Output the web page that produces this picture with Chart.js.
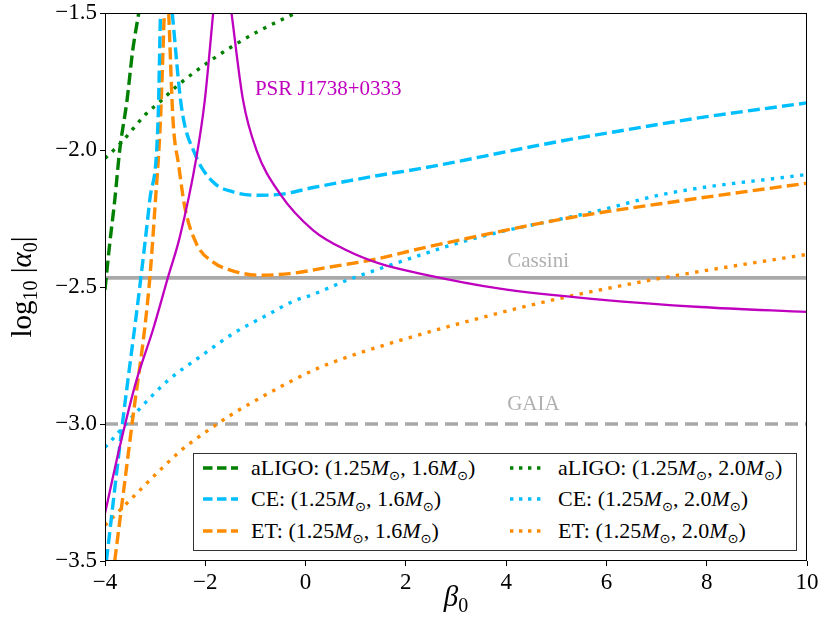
<!DOCTYPE html>
<html>
<head>
<meta charset="utf-8">
<script src="https://cdn.jsdelivr.net/npm/chart.js@4.4.1/dist/chart.umd.min.js"></script>
<style>
  html, body { margin: 0; padding: 0; background: #fff; }
  #wrap { position: relative; width: 818px; height: 617px; }
  canvas { display: block; }
  #legend {
    position: absolute; left: 193px; top: 453px; width: 602px; height: 96px;
    border: 1px solid #333; background: #fff;
    font-family: "Liberation Serif", serif; font-size: 22px; color: #000;
  }
  #legend .item { position: absolute; height: 30px; display: flex; align-items: center; white-space: nowrap; }
  #legend .item svg { margin-right: 13px; flex: none; }
  #legend sub { font-size: 0.6em; vertical-align: -0.35em; line-height: 0; font-family: "DejaVu Sans", sans-serif; }
</style>
</head>
<body>
<div id="wrap">
  <canvas id="c" width="818" height="617"></canvas>
  <div id="legend"></div>
</div>
<script>
// ---------- data ----------
const xTicks = [-4, -2, 0, 2, 4, 6, 8, 10];
const yTicks = [-3.5, -3.0, -2.5, -2.0, -1.5];

const detectors = ['aLIGO', 'CE', 'ET'];
const companionMasses = ['1.6', '2.0'];
const primaryMass = '1.25';

// aLIGO (1.25, 1.6) dashed
const aligo16X = [-4.0, -3.906, -3.806, -3.707, -3.561, -3.447, -3.327];
const aligo16Y = [-2.51, -2.342, -2.184, -2.001, -1.819, -1.636, -1.5];
// aLIGO (1.25, 2.0) dotted
const aligo20X = [-4.0, -3.707, -3.174, -2.874, -2.575, -1.944, -1.445, -0.946, -0.2];
const aligo20Y = [-2.030, -1.979, -1.867, -1.819, -1.768, -1.680, -1.620, -1.567, -1.5];

// CE (1.25, 1.6) dashed, two branches
const ce16LeftX = [-3.972, -3.653, -3.307, -3.108, -2.942, -2.894];
const ce16LeftY = [-3.5, -3.0, -2.5, -2.184, -1.892, -1.5];
const ce16RightX = [-2.659, -2.475, -2.210, -1.844, -1.445, -0.978, -0.513, 0.152, 0.818, 1.483, 2.281, 5.076, 6.539, 7.870, 10.0];
const ce16RightY = [-1.5, -1.843, -2.013, -2.117, -2.153, -2.165, -2.162, -2.137, -2.114, -2.092, -2.068, -1.968, -1.922, -1.882, -1.828];
// CE (1.25, 2.0) dotted
const ce20X = [-4.0, -3.840, -3.307, -2.743, -2.110, -1.445, -0.713, -0.248, 0.152, 0.818, 1.483, 2.281, 2.880, 3.878, 4.876, 5.741, 7.206, 10.0];
const ce20Y = [-3.085, -3.053, -2.944, -2.841, -2.755, -2.670, -2.597, -2.552, -2.527, -2.476, -2.433, -2.384, -2.348, -2.299, -2.260, -2.226, -2.159, -2.089];

// ET (1.25, 1.6) dashed, two branches
const et16LeftX = [-3.806, -3.461, -3.122, -2.994, -2.894, -2.818];
const et16LeftY = [-3.5, -3.0, -2.5, -2.184, -1.892, -1.5];
const et16RightX = [-2.729, -2.643, -2.530, -2.409, -2.176, -1.844, -1.377, -0.912, -0.313, 0.489, 1.349, 2.281, 2.880, 5.210, 7.537, 10.0];
const et16RightY = [-1.5, -1.892, -2.056, -2.208, -2.342, -2.409, -2.445, -2.457, -2.451, -2.427, -2.400, -2.360, -2.336, -2.249, -2.184, -2.121];
// ET (1.25, 2.0) dotted
const et20X = [-4.0, -3.607, -3.273, -2.874, -2.443, -1.944, -1.445, -1.112, 0.152, 0.750, 1.882, 3.944, 5.210, 7.206, 10.0];
const et20Y = [-3.370, -3.297, -3.236, -3.163, -3.090, -3.023, -2.962, -2.926, -2.804, -2.761, -2.695, -2.591, -2.536, -2.464, -2.381];

// PSR J1738+0333, two branches
const psrLeftX = [-4.0, -3.707, -3.373, -3.042, -2.743, -2.509, -2.176, -2.010, -1.844];
const psrLeftY = [-3.326, -3.084, -2.841, -2.655, -2.464, -2.318, -2.026, -1.819, -1.502];
const psrRightX = [-1.477, -1.246, -0.978, -0.513, 0.152, 0.818, 1.483, 2.281, 3.878, 5.874, 7.870, 10.0];
const psrRightY = [-1.5, -1.819, -2.001, -2.159, -2.293, -2.366, -2.415, -2.451, -2.506, -2.546, -2.573, -2.591];

// horizontal bounds
const boundX = [-4, 10];
const cassiniLevel = -2.467;
const gaiaLevel = -3.0;

// text annotations (anchor in data coordinates)
const annotationTexts = ['PSR J1738+0333', 'Cassini', 'GAIA'];
const annotationX = [-1.01, 4.02, 4.02];
const annotationY = [-1.80, -2.428, -2.950];

// ---------- helpers ----------
const pts = (xs, ys) => xs.map((x, i) => ({ x: x, y: ys[i] }));
const branches = (xa, ya, xb, yb) =>
  pts(xa, ya).concat([{ x: (xa[xa.length - 1] + xb[0]) / 2, y: null }], pts(xb, yb));

const GREEN = '#008000', CYAN = '#00bfff', ORANGE = '#ff8c00', MAGENTA = '#bf00bf', GRAY = '#a9a9a9';
const DASH = [12, 5.2], DOT = [3.4, 6.4];
const SERIF = '"Liberation Serif", "Times New Roman", serif';
Chart.defaults.font.family = SERIF;

function curve(data, color, style, legend) {
  return {
    data: data, borderColor: color, backgroundColor: color,
    borderWidth: style === 'solid' ? 2.3 : 3.4,
    borderDash: style === 'dash' ? DASH : style === 'dot' ? DOT : [],
    borderCapStyle: 'butt', showLine: true, pointRadius: 0,
    cubicInterpolationMode: 'monotone', spanGaps: false, clip: 0,
    legendInfo: legend
  };
}

const datasets = [
  curve(branches(psrLeftX, psrLeftY, psrRightX, psrRightY), MAGENTA, 'solid', null),
  curve(pts(aligo16X, aligo16Y), GREEN, 'dash', { det: 0, m: 0 }),
  curve(branches(ce16LeftX, ce16LeftY, ce16RightX, ce16RightY), CYAN, 'dash', { det: 1, m: 0 }),
  curve(branches(et16LeftX, et16LeftY, et16RightX, et16RightY), ORANGE, 'dash', { det: 2, m: 0 }),
  curve(pts(aligo20X, aligo20Y), GREEN, 'dot', { det: 0, m: 1 }),
  curve(pts(ce20X, ce20Y), CYAN, 'dot', { det: 1, m: 1 }),
  curve(pts(et20X, et20Y), ORANGE, 'dot', { det: 2, m: 1 }),
  Object.assign(curve(pts(boundX, [cassiniLevel, cassiniLevel]), GRAY, 'solid', null), { borderWidth: 3.8 }),
  Object.assign(curve(pts(boundX, [gaiaLevel, gaiaLevel]), GRAY, 'dash', null), { borderWidth: 3.6, borderDash: [13, 7] })
];

const annColors = [MAGENTA, '#b0b0b0', '#b0b0b0'];
const fmtNum = (v, d) => (d ? v.toFixed(d) : String(v)).replace('-', '\u2212');

const overlay = {
  id: 'overlay',
  afterDatasetsDraw(chart) {
    const { ctx, chartArea: a, scales } = chart;
    ctx.save();
    ctx.font = '21px ' + SERIF;
    ctx.textBaseline = 'alphabetic';
    ctx.textAlign = 'left';
    annotationTexts.forEach((t, i) => {
      ctx.fillStyle = annColors[i];
      ctx.fillText(t, scales.x.getPixelForValue(annotationX[i]), scales.y.getPixelForValue(annotationY[i]));
    });
    ctx.strokeStyle = '#000';
    ctx.lineWidth = 1;
    ctx.strokeRect(a.left + 0.5, a.top + 0.5, a.right - a.left - 1, a.bottom - a.top - 1);
    ctx.restore();
  },
  afterDraw(chart) {
    const { ctx, chartArea: a } = chart;
    const drawPieces = (pieces) => {
      let w = 0;
      pieces.forEach(p => { ctx.font = p.f; p.w = ctx.measureText(p.t).width; w += p.w; });
      let cx = -w / 2;
      pieces.forEach(p => { ctx.font = p.f; ctx.fillText(p.t, cx, p.dy || 0); cx += p.w; });
    };
    ctx.save();
    ctx.fillStyle = '#000';
    ctx.textBaseline = 'alphabetic';
    ctx.textAlign = 'left';
    // y title
    ctx.save();
    ctx.translate(31, (a.top + a.bottom) / 2);
    ctx.rotate(-Math.PI / 2);
    drawPieces([
      { t: 'log', f: '29px ' + SERIF },
      { t: '10', f: '20px ' + SERIF, dy: 6 },
      { t: ' |', f: '29px ' + SERIF },
      { t: '\u03b1', f: 'italic 29px ' + SERIF },
      { t: '0', f: '20px ' + SERIF, dy: 6 },
      { t: '|', f: '29px ' + SERIF }
    ]);
    ctx.restore();
    // x title
    ctx.save();
    ctx.translate((a.left + a.right) / 2, 606);
    drawPieces([
      { t: '\u03b2', f: 'italic 29px ' + SERIF },
      { t: '0', f: '20px ' + SERIF, dy: 6 }
    ]);
    ctx.restore();
    ctx.restore();
  }
};

const tickFont = { family: SERIF, size: 23 };

const chart = new Chart(document.getElementById('c'), {
  type: 'scatter',
  data: { datasets: datasets },
  options: {
    responsive: false, animation: false, devicePixelRatio: 1,
    layout: { padding: { left: 0, right: 11, top: 13, bottom: 0 } },
    plugins: { legend: { display: false }, tooltip: { enabled: false } },
    scales: {
      x: {
        type: 'linear', min: xTicks[0], max: xTicks[xTicks.length - 1],
        afterBuildTicks: s => { s.ticks = xTicks.map(v => ({ value: v })); },
        afterFit: s => { s.height = 56; s.paddingLeft = 0; s.paddingRight = 0; },
        grid: { display: true, drawOnChartArea: false, drawTicks: true, tickLength: 5, color: '#000', lineWidth: 1 },
        border: { display: false },
        ticks: { font: tickFont, color: '#000', padding: 3, maxRotation: 0, callback: v => fmtNum(v, 0) }
      },
      y: {
        type: 'linear', min: yTicks[0], max: yTicks[yTicks.length - 1],
        afterBuildTicks: s => { s.ticks = yTicks.map(v => ({ value: v })); },
        afterFit: s => { s.width = 105; s.paddingTop = 0; s.paddingBottom = 0; },
        grid: { display: true, drawOnChartArea: false, drawTicks: true, tickLength: 5, color: '#000', lineWidth: 1 },
        border: { display: false },
        ticks: { font: tickFont, color: '#000', padding: 3, callback: v => fmtNum(v, 1) }
      }
    }
  },
  plugins: [overlay]
});

// ---------- HTML legend built from the chart's datasets ----------
(function buildLegend() {
  const box = document.getElementById('legend');
  const rowTop = [-1, 30, 62];
  const colLeft = [9, 316];
  chart.data.datasets.forEach(ds => {
    const info = ds.legendInfo;
    if (!info) return;
    const item = document.createElement('div');
    item.className = 'item';
    item.style.top = rowTop[info.det] + 'px';
    item.style.left = colLeft[info.m] + 'px';
    const dash = info.m === 0 ? '9.5 4.5' : '3.4 5.6';
    item.innerHTML =
      '<svg width="35" height="12"><line x1="0" y1="6" x2="35" y2="6" stroke="' + ds.borderColor +
      '" stroke-width="3.4" stroke-dasharray="' + dash + '"/></svg>' +
      '<span>' + detectors[info.det] + ': (' + primaryMass + '<i>M</i><sub>\u2299</sub>, ' +
      companionMasses[info.m] + '<i>M</i><sub>\u2299</sub>)</span>';
    box.appendChild(item);
  });
})();
</script>
</body>
</html>
